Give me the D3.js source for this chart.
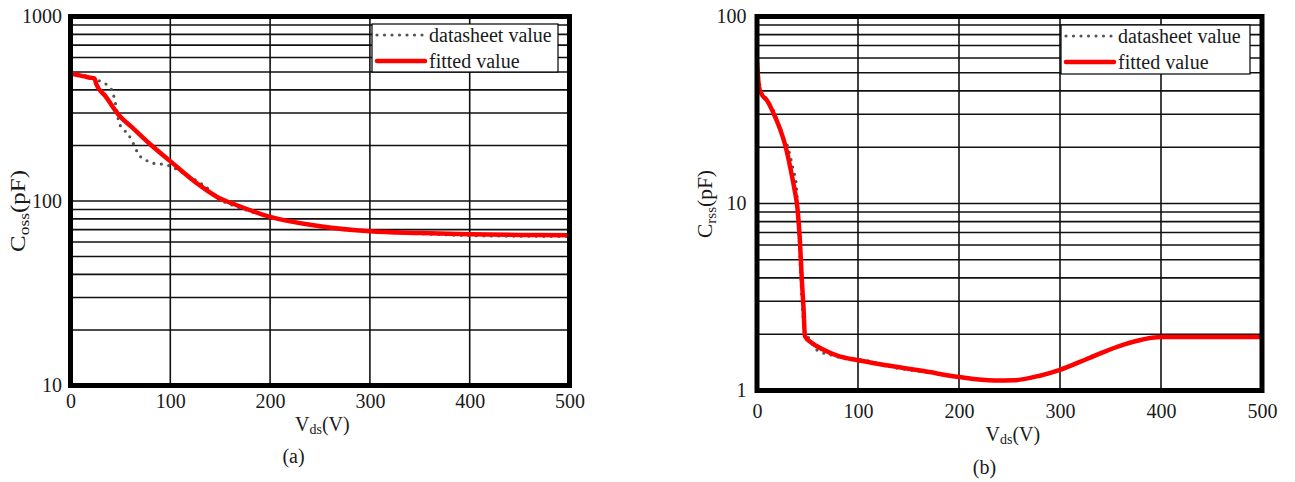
<!DOCTYPE html>
<html>
<head>
<meta charset="utf-8">
<script src="https://cdn.jsdelivr.net/npm/d3@7"></script>
<style>
  body { margin: 0; background: #fff; }
  text { font-family: "Liberation Serif", "Times New Roman", serif; fill: #1a1a1a; }
</style>
</head>
<body>
<svg id="chart" width="1295" height="482"></svg>
<script>
// ---- data ----
const xTicks = [0, 100, 200, 300, 400, 500];
const cossTicks = [10, 100, 1000];
const crssTicks = [1, 10, 100];
const legendLabels = ['datasheet value', 'fitted value'];

// (a) Coss
const cossSheetV = [0, 10, 20, 27, 31, 37.5, 42.5, 45.8, 48.5, 52.5, 57.5, 62, 65.3, 68.6, 75.3, 82.6, 89.4, 97.7, 106, 118, 126, 136, 146, 163, 180, 200, 230, 260, 300, 350, 400, 450, 500];
const cossSheet  = [490, 482, 470, 455, 440, 423, 385, 322, 267, 246, 231, 210, 192, 178, 167, 160, 159, 156, 149, 137, 129, 119, 105, 94.6, 88, 82, 76, 72, 68.5, 66.5, 65, 64.5, 64.3];
const cossFitV = [0, 5, 12, 20, 24, 26, 35, 49, 62, 79, 99, 130, 150, 160, 200, 250, 300, 350, 400, 450, 500];
const cossFit  = [492, 485, 475, 466, 461, 428, 370, 290, 250, 205, 166, 121, 103, 98, 82, 73, 68.5, 67, 66, 65.5, 65.3];

// (b) Crss
const crssSheetV = [0, 4, 10, 18, 25, 30, 33, 36, 38.6, 41, 43, 45, 47.5, 52.5, 57, 64, 71, 79, 87, 95, 104, 115, 135, 165, 200, 235, 255, 280, 300, 330, 363, 400, 450, 500];
const crssSheet  = [57, 40, 36, 30, 23, 20.5, 17.8, 15, 13, 8, 4.5, 2.8, 2.05, 1.87, 1.69, 1.6, 1.56, 1.52, 1.48, 1.48, 1.46, 1.42, 1.33, 1.26, 1.18, 1.13, 1.135, 1.2, 1.29, 1.5, 1.76, 1.93, 1.93, 1.93];
const crssFitV = [0, 2, 4, 10, 18, 24, 29, 33, 37, 40, 42.5, 44.5, 46, 47.5, 54, 65, 80, 100, 130, 165, 200, 235, 255, 280, 300, 330, 363, 400, 450, 500];
const crssFit  = [57, 42, 39, 35.5, 29, 24, 19.5, 15.5, 12, 9.5, 6.3, 3.8, 2.8, 1.95, 1.8, 1.66, 1.53, 1.45, 1.36, 1.27, 1.18, 1.13, 1.135, 1.2, 1.29, 1.5, 1.76, 1.93, 1.93, 1.93];

const svg = d3.select('#chart');

const styles = {
  grid: '#111',
  red: '#ff0000',
  dots: '#555',
  fontSize: 20
};

const panels = [
  {
    id: 'a', left: 70.5, right: 569.5, top: 16.5, bottom: 385.5,
    yDomain: [10, 1000], yTicks: cossTicks,
    sheetV: cossSheetV, sheet: cossSheet, fitV: cossFitV, fit: cossFit,
    yPad: 8.5, xPad: 8,
    sub: 'oss', yTitle: {x: 25, y: 211, len: 82},
    xTitle: {x: 295, y: 431},
    caption: {x: 293.5, y: 463},
    legend: {x: 372, y: 24, w: 186, h: 48}
  },
  {
    id: 'b', left: 757, right: 1262, top: 16.5, bottom: 390.5,
    yDomain: [1, 100], yTicks: crssTicks,
    sheetV: crssSheetV, sheet: crssSheet, fitV: crssFitV, fit: crssFit,
    yPad: 10.5, xPad: 13,
    sub: 'rss', yTitle: {x: 712, y: 204, len: 68},
    xTitle: {x: 985.5, y: 441},
    caption: {x: 984.5, y: 474},
    legend: {x: 1061, y: 25, w: 189, h: 49}
  }
];

panels.forEach(p => {
  const x = d3.scaleLinear().domain([0, 500]).range([p.left, p.right]);
  const y = d3.scaleLog().domain(p.yDomain).range([p.bottom, p.top]);

  const g = svg.append('g').attr('class', 'panel-' + p.id);

  g.append('clipPath').attr('id', 'clip-' + p.id)
    .append('rect')
    .attr('x', p.left).attr('y', p.top)
    .attr('width', p.right - p.left).attr('height', p.bottom - p.top);

  // grid
  const hLines = y.ticks().filter(v => v > p.yDomain[0] && v < p.yDomain[1]);
  g.append('g').selectAll('line')
    .data(hLines)
    .enter().append('line')
    .attr('x1', p.left).attr('x2', p.right)
    .attr('y1', d => y(d)).attr('y2', d => y(d))
    .style('stroke', styles.grid).style('stroke-width', 1.6);

  g.append('g').selectAll('line')
    .data(xTicks.slice(1, -1))
    .enter().append('line')
    .attr('x1', d => x(d)).attr('x2', d => x(d))
    .attr('y1', p.top).attr('y2', p.bottom)
    .style('stroke', styles.grid).style('stroke-width', 1.6);

  // curves
  const line = (vs, cs) => d3.line()
    .x(i => x(vs[i]))
    .y(i => y(cs[i]))
    .curve(d3.curveMonotoneX)(d3.range(vs.length));

  const curves = g.append('g').attr('clip-path', `url(#clip-${p.id})`);

  curves.append('path')
    .attr('d', line(p.fitV, p.fit))
    .style('fill', 'none').style('stroke', styles.red)
    .style('stroke-width', 4.5).style('stroke-linejoin', 'round');

  curves.append('path')
    .attr('d', line(p.sheetV, p.sheet))
    .style('fill', 'none').style('stroke', styles.dots)
    .style('stroke-width', 3.2).style('stroke-linecap', 'round')
    .style('stroke-dasharray', '0 7.5');

  // the red curve sits on top in most places of the reference
  curves.select('path').raise();

  // frame
  g.append('rect')
    .attr('x', p.left).attr('y', p.top)
    .attr('width', p.right - p.left).attr('height', p.bottom - p.top)
    .style('fill', 'none').style('stroke', '#000').style('stroke-width', 5);

  // axes labels
  const yAxis = g.append('g')
    .attr('transform', `translate(${p.left},0)`)
    .call(d3.axisLeft(y).tickValues(p.yTicks).tickFormat(d3.format('d')).tickSize(0).tickPadding(p.yPad));
  const xAxis = g.append('g')
    .attr('transform', `translate(0,${p.bottom})`)
    .call(d3.axisBottom(x).tickValues(xTicks).tickSize(0).tickPadding(p.xPad));
  [yAxis, xAxis].forEach(a => {
    a.select('.domain').remove();
    a.attr('font-family', null).attr('font-size', null);
    a.selectAll('text').style('font-size', styles.fontSize + 'px').style('fill', '#1a1a1a');
  });

  // x title
  const xt = g.append('text')
    .attr('x', p.xTitle.x).attr('y', p.xTitle.y)
    .style('font-size', styles.fontSize + 'px');
  xt.append('tspan').text('V');
  xt.append('tspan').attr('dy', 3).style('font-size', '14px').text('ds');
  xt.append('tspan').attr('dy', -3).text('(V)');

  // y title (stretched along its length like the reference)
  const yt = g.append('text')
    .attr('text-anchor', 'middle')
    .style('font-size', styles.fontSize + 'px');
  yt.append('tspan').text('C');
  yt.append('tspan').attr('dy', 3.5).style('font-size', '14px').text(p.sub);
  yt.append('tspan').attr('dy', -3.5).text('(pF)');
  const natural = yt.node().getComputedTextLength();
  yt.attr('transform', `translate(${p.yTitle.x},${p.yTitle.y}) rotate(-90) scale(${p.yTitle.len / natural},1)`);

  // caption
  g.append('text')
    .attr('x', p.caption.x).attr('y', p.caption.y)
    .attr('text-anchor', 'middle')
    .style('font-size', styles.fontSize + 'px')
    .text(`(${p.id})`);

  // legend
  const L = p.legend;
  const lg = g.append('g').attr('transform', `translate(${L.x},${L.y})`);
  lg.append('rect')
    .attr('width', L.w).attr('height', L.h)
    .style('fill', '#fff').style('stroke', '#000').style('stroke-width', 1.2);

  const rows = [
    {label: legendLabels[0], color: styles.dots, width: 3.2, dash: '0 7.5', cap: 'round', ly: 11, ty: 18},
    {label: legendLabels[1], color: styles.red, width: 4.5, dash: null, cap: 'round', ly: 37, ty: 44}
  ];
  const row = lg.selectAll('g.row').data(rows).enter().append('g').attr('class', 'row');
  row.append('line')
    .attr('x1', 5).attr('x2', 53)
    .attr('y1', d => d.ly).attr('y2', d => d.ly)
    .style('stroke', d => d.color).style('stroke-width', d => d.width)
    .style('stroke-linecap', d => d.cap)
    .style('stroke-dasharray', d => d.dash);
  row.append('text')
    .attr('x', 57).attr('y', d => d.ty)
    .style('font-size', styles.fontSize + 'px')
    .text(d => d.label);
});
</script>
</body>
</html>
